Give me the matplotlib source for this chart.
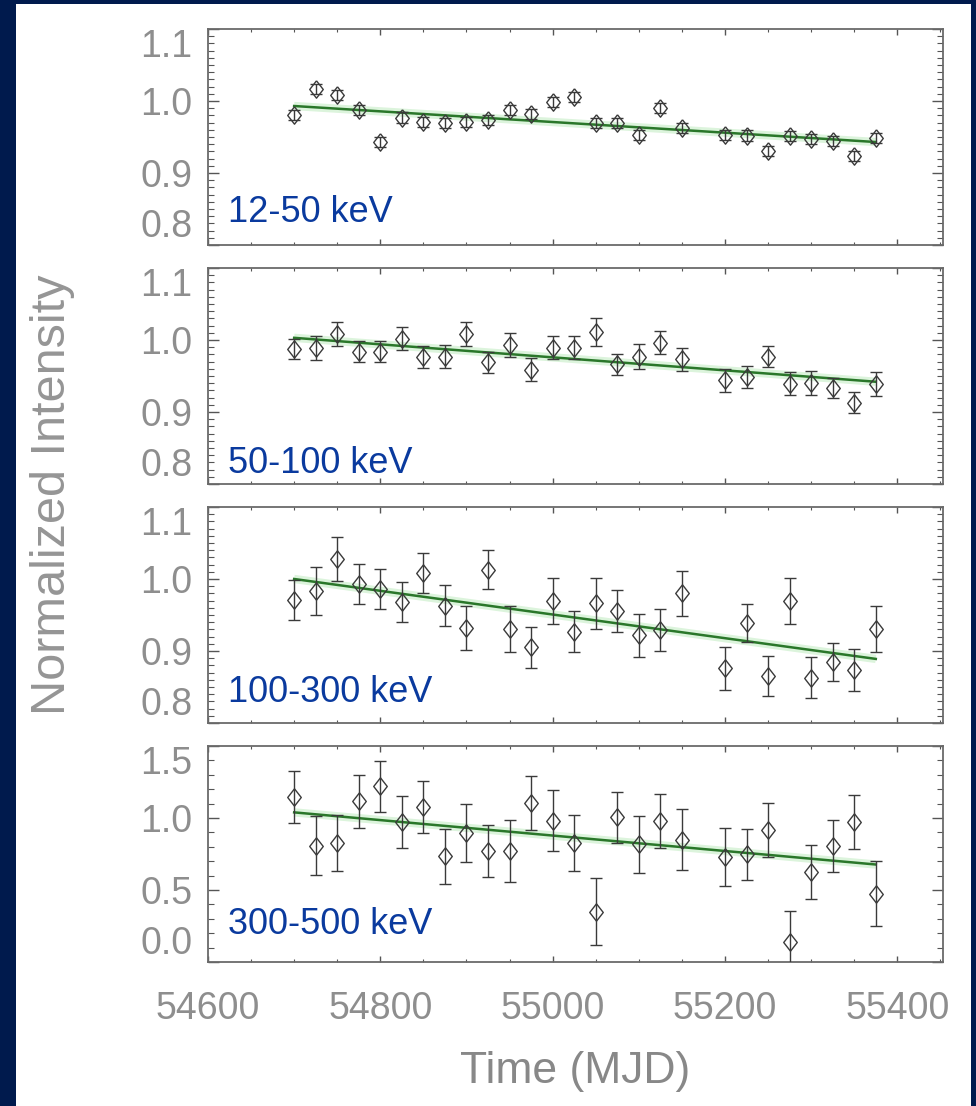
import numpy as np
import matplotlib.pyplot as plt
from matplotlib.patches import Rectangle
from matplotlib.ticker import MultipleLocator

plt.rcParams['font.family'] = ['Liberation Sans', 'DejaVu Sans']

# observation times (MJD), one point every 25 days, 55175 missing
mjd = [54700, 54725, 54750, 54775, 54800, 54825, 54850, 54875, 54900, 54925,
       54950, 54975, 55000, 55025, 55050, 55075, 55100, 55125, 55150,
       55200, 55225, 55250, 55275, 55300, 55325, 55350, 55375]

# 12-50 keV
y1 = [0.981, 1.016, 1.008, 0.988, 0.943, 0.977, 0.971, 0.970, 0.971, 0.973,
      0.988, 0.982, 0.999, 1.006, 0.969, 0.970, 0.953, 0.990, 0.963,
      0.953, 0.952, 0.930, 0.951, 0.947, 0.944, 0.923, 0.949]
e1 = [0.007, 0.007, 0.007, 0.007, 0.007, 0.007, 0.007, 0.007, 0.007, 0.007,
      0.007, 0.007, 0.007, 0.007, 0.007, 0.007, 0.007, 0.007, 0.007,
      0.007, 0.007, 0.007, 0.007, 0.007, 0.007, 0.007, 0.007]

# 50-100 keV
y2 = [0.987, 0.989, 1.008, 0.984, 0.984, 1.002, 0.976, 0.977, 1.008, 0.969,
      0.993, 0.959, 0.989, 0.989, 1.011, 0.966, 0.977, 0.996, 0.973,
      0.944, 0.949, 0.977, 0.939, 0.940, 0.933, 0.913, 0.939]
e2 = [0.014, 0.017, 0.017, 0.015, 0.015, 0.016, 0.015, 0.016, 0.017, 0.015,
      0.017, 0.016, 0.016, 0.016, 0.020, 0.015, 0.017, 0.016, 0.016,
      0.016, 0.015, 0.015, 0.016, 0.017, 0.014, 0.015, 0.017]

# 100-300 keV
y3 = [0.971, 0.983, 1.028, 0.993, 0.986, 0.968, 1.008, 0.963, 0.932, 1.013,
      0.930, 0.905, 0.970, 0.927, 0.966, 0.956, 0.922, 0.929, 0.980,
      0.876, 0.939, 0.865, 0.969, 0.863, 0.885, 0.874, 0.931]
e3 = [0.028, 0.033, 0.031, 0.028, 0.028, 0.028, 0.028, 0.028, 0.031, 0.027,
      0.032, 0.028, 0.032, 0.029, 0.036, 0.029, 0.030, 0.029, 0.031,
      0.030, 0.026, 0.028, 0.032, 0.028, 0.026, 0.029, 0.032]

# 300-500 keV
y4 = [1.143, 0.809, 0.827, 1.115, 1.219, 0.970, 1.074, 0.735, 0.896, 0.770,
      0.770, 1.104, 0.982, 0.827, 0.350, 1.005, 0.816, 0.977, 0.850,
      0.728, 0.747, 0.919, 0.136, 0.624, 0.804, 0.972, 0.475]
e4 = [0.180, 0.207, 0.194, 0.184, 0.179, 0.181, 0.180, 0.192, 0.202, 0.179,
      0.215, 0.187, 0.213, 0.192, 0.234, 0.176, 0.196, 0.187, 0.211,
      0.202, 0.180, 0.187, 0.219, 0.188, 0.181, 0.190, 0.225]

# linear fits (start / end values)
fit_x = [54700, 55375]
fit1 = [0.993, 0.943]
fit2 = [1.003, 0.942]
fit3 = [1.000, 0.889]
fit4 = [1.039, 0.677]

bands = ['12-50 keV', '50-100 keV', '100-300 keV', '300-500 keV']
xticks = [54600, 54800, 55000, 55200, 55400]

panels = [(y1, e1, fit1), (y2, e2, fit2), (y3, e3, fit3), (y4, e4, fit4)]
bottoms = [0.7785, 0.5624, 0.3463, 0.1302]
label_y = [0.106, 0.051, 0.097, 0.130]

fig = plt.figure(figsize=(9.76, 11.06), dpi=100, facecolor='#001a4d')
fig.patches.append(Rectangle((0.0164, 0.0), 0.9785, 0.9964, transform=fig.transFigure,
                             facecolor='white', edgecolor='none', zorder=-1))

diamond = [(0, 1), (0.78, 0), (0, -1), (-0.78, 0), (0, 1)]

for i, (yv, ev, fv) in enumerate(panels):
    ax = fig.add_axes([0.2131, bottoms[i], 0.7531, 0.1953])
    ax.plot(fit_x, fv, color='#9be09b', linewidth=6, alpha=0.35, solid_capstyle='butt', zorder=1)
    ax.plot(fit_x, fv, color='#2a772a', linewidth=1.8, zorder=2)
    ax.errorbar(mjd, yv, yerr=ev, fmt='none', ecolor='#3a3a3a', elinewidth=1.0,
                capsize=4.2, capthick=1.0, zorder=3)
    ax.plot(mjd, yv, linestyle='none', marker=diamond, markersize=12.5,
            markerfacecolor='none', markeredgecolor='#3a3a3a', markeredgewidth=1.0, zorder=4)

    ax.set_xlim(54600, 55453)
    ax.xaxis.set_major_locator(MultipleLocator(200))
    ax.xaxis.set_minor_locator(MultipleLocator(50))
    if i < 3:
        ax.set_ylim(0.8, 1.1)
        ax.set_yticks([0.8, 0.9, 1.0, 1.1])
        ax.set_yticklabels(['0.8', '0.9', '1.0', '1.1'])
        ax.yaxis.set_minor_locator(MultipleLocator(0.01))
    else:
        ax.set_ylim(0.0, 1.5)
        ax.set_yticks([0.0, 0.5, 1.0, 1.5])
        ax.set_yticklabels(['0.0', '0.5', '1.0', '1.5'])
        ax.yaxis.set_minor_locator(MultipleLocator(0.1))

    # end labels sit inside the panel height, as in the original
    ylabs = ax.get_yticklabels()
    ylabs[0].set_va('bottom')
    ylabs[-1].set_va('top')

    if i == 3:
        ax.set_xticks(xticks)
        ax.set_xticklabels([str(t) for t in xticks])
    else:
        ax.set_xticklabels([])

    for s in ax.spines.values():
        s.set_color('#6a6a6a')
        s.set_linewidth(1.3)
    ax.tick_params(axis='both', which='both', direction='in', top=True, right=True,
                   color='#555555', labelcolor='#8e8e8e', labelsize=27)
    ax.tick_params(axis='y', which='major', length=8, width=1.0, pad=11)
    ax.tick_params(axis='y', which='minor', length=4.5, width=0.8)
    ax.tick_params(axis='x', which='major', length=4.5, width=1.0, pad=21)
    ax.tick_params(axis='x', which='minor', length=2.5, width=0.8)

    ax.text(0.027, label_y[i], bands[i], transform=ax.transAxes, fontsize=26,
            color='#0a3a9e', ha='left', va='baseline')

fig.text(53 / 976, 1 - 495 / 1106, 'Normalized Intensity', rotation=90, fontsize=35,
         color='#959595', ha='center', va='center')
fig.text(575 / 976, 1 - 1072 / 1106, 'Time (MJD)', fontsize=32,
         color='#888888', ha='center', va='center')

plt.savefig('out.png', dpi=100, facecolor=fig.get_facecolor())
